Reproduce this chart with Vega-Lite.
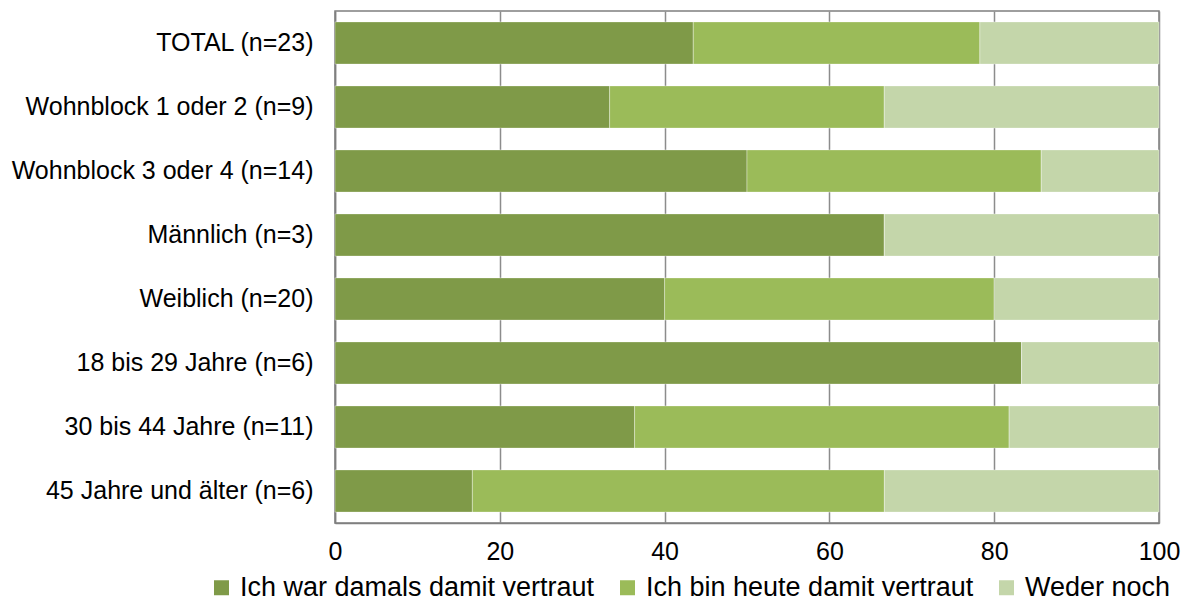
{
  "$schema": "https://vega.github.io/schema/vega-lite/v6.json",
  "width": 824,
  "height": 512,
  "autosize": {"type": "none"},
  "padding": {"left": 335, "top": 11, "right": 30, "bottom": 80},
  "background": "#ffffff",
  "config": {
    "font": "Arial, Liberation Sans, sans-serif",
    "view": {"stroke": "#7f7f7f", "strokeWidth": 1.5}
  },
  "data": {
    "values": [
      {"cat": "TOTAL (n=23)", "series": "Ich war damals damit vertraut", "value": 43.48, "o": 1},
      {"cat": "TOTAL (n=23)", "series": "Ich bin heute damit vertraut", "value": 34.78, "o": 2},
      {"cat": "TOTAL (n=23)", "series": "Weder noch", "value": 21.74, "o": 3},
      {"cat": "Wohnblock 1 oder 2 (n=9)", "series": "Ich war damals damit vertraut", "value": 33.33, "o": 1},
      {"cat": "Wohnblock 1 oder 2 (n=9)", "series": "Ich bin heute damit vertraut", "value": 33.33, "o": 2},
      {"cat": "Wohnblock 1 oder 2 (n=9)", "series": "Weder noch", "value": 33.34, "o": 3},
      {"cat": "Wohnblock 3 oder 4 (n=14)", "series": "Ich war damals damit vertraut", "value": 50.0, "o": 1},
      {"cat": "Wohnblock 3 oder 4 (n=14)", "series": "Ich bin heute damit vertraut", "value": 35.71, "o": 2},
      {"cat": "Wohnblock 3 oder 4 (n=14)", "series": "Weder noch", "value": 14.29, "o": 3},
      {"cat": "Männlich (n=3)", "series": "Ich war damals damit vertraut", "value": 66.67, "o": 1},
      {"cat": "Männlich (n=3)", "series": "Ich bin heute damit vertraut", "value": 0, "o": 2},
      {"cat": "Männlich (n=3)", "series": "Weder noch", "value": 33.33, "o": 3},
      {"cat": "Weiblich (n=20)", "series": "Ich war damals damit vertraut", "value": 40.0, "o": 1},
      {"cat": "Weiblich (n=20)", "series": "Ich bin heute damit vertraut", "value": 40.0, "o": 2},
      {"cat": "Weiblich (n=20)", "series": "Weder noch", "value": 20.0, "o": 3},
      {"cat": "18 bis 29 Jahre (n=6)", "series": "Ich war damals damit vertraut", "value": 83.33, "o": 1},
      {"cat": "18 bis 29 Jahre (n=6)", "series": "Ich bin heute damit vertraut", "value": 0, "o": 2},
      {"cat": "18 bis 29 Jahre (n=6)", "series": "Weder noch", "value": 16.67, "o": 3},
      {"cat": "30 bis 44 Jahre (n=11)", "series": "Ich war damals damit vertraut", "value": 36.36, "o": 1},
      {"cat": "30 bis 44 Jahre (n=11)", "series": "Ich bin heute damit vertraut", "value": 45.45, "o": 2},
      {"cat": "30 bis 44 Jahre (n=11)", "series": "Weder noch", "value": 18.19, "o": 3},
      {"cat": "45 Jahre und älter (n=6)", "series": "Ich war damals damit vertraut", "value": 16.67, "o": 1},
      {"cat": "45 Jahre und älter (n=6)", "series": "Ich bin heute damit vertraut", "value": 50.0, "o": 2},
      {"cat": "45 Jahre und älter (n=6)", "series": "Weder noch", "value": 33.33, "o": 3}
    ]
  },
  "mark": {"type": "bar", "stroke": "#ffffff", "strokeOpacity": 0.35, "strokeWidth": 1},
  "encoding": {
    "y": {
      "field": "cat",
      "type": "nominal",
      "sort": ["TOTAL (n=23)", "Wohnblock 1 oder 2 (n=9)", "Wohnblock 3 oder 4 (n=14)", "Männlich (n=3)", "Weiblich (n=20)", "18 bis 29 Jahre (n=6)", "30 bis 44 Jahre (n=11)", "45 Jahre und älter (n=6)"],
      "scale": {"paddingInner": 0.34, "paddingOuter": 0.17},
      "axis": {
        "title": null,
        "labelFontSize": 25,
        "labelColor": "#000000",
        "labelPadding": 22,
        "ticks": false,
        "domainColor": "#7f7f7f",
        "domainWidth": 1.5,
        "labelLimit": 400
      }
    },
    "x": {
      "field": "value",
      "type": "quantitative",
      "stack": "zero",
      "scale": {"domain": [0, 100], "nice": false},
      "axis": {
        "title": null,
        "values": [0, 20, 40, 60, 80, 100],
        "labelFontSize": 25,
        "labelColor": "#000000",
        "labelPadding": 16,
        "ticks": false,
        "grid": true,
        "gridColor": "#8c8c8c",
        "gridWidth": 1.5,
        "domainColor": "#7f7f7f",
        "domainWidth": 1.5,
        "labelFlush": false
      }
    },
    "color": {
      "field": "series",
      "type": "nominal",
      "scale": {
        "domain": ["Ich war damals damit vertraut", "Ich bin heute damit vertraut", "Weder noch"],
        "range": ["#7f9a48", "#9bbb59", "#c4d6aa"]
      },
      "legend": {
        "title": null,
        "orient": "none",
        "legendX": -127,
        "legendY": 563,
        "direction": "horizontal",
        "symbolType": "square",
        "symbolSize": 225,
        "symbolStrokeWidth": 0,
        "labelFontSize": 27,
        "labelColor": "#000000",
        "labelOffset": 5,
        "columnPadding": 19,
        "labelLimit": 600
      }
    },
    "order": {"field": "o", "type": "quantitative"}
  }
}
